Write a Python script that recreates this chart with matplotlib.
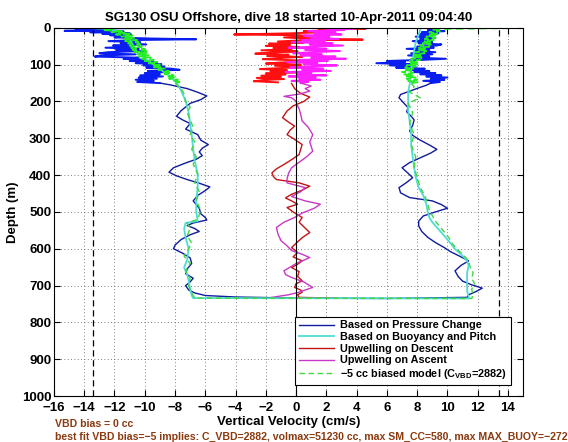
import matplotlib
matplotlib.use('Agg')
import matplotlib.pyplot as plt
import numpy as np

plt.rcParams['font.family'] = ['Liberation Sans', 'DejaVu Sans']
plt.rcParams['font.weight'] = 'bold'
plt.rcParams['mathtext.fontset'] = 'custom'
plt.rcParams['mathtext.rm'] = 'Liberation Sans:bold'
plt.rcParams['mathtext.it'] = 'Liberation Sans:bold'
plt.rcParams['mathtext.bf'] = 'Liberation Sans:bold'

# ---------------------------------------------------------------------------
# Data (depth in m, vertical velocity in cm/s)
# ---------------------------------------------------------------------------

# Based on pressure change: descent then ascent
press_depth = [0, 2, 4, 6, 8, 10, 12, 14, 16, 18, 20, 23, 26, 29, 31, 33, 36, 39, 42, 45,
               48, 51, 54, 57, 60, 63, 66, 69, 72, 75, 78, 81, 84, 87, 90, 93, 96, 99, 102, 105,
               108, 111, 114, 117, 120, 123, 126, 129, 132, 135, 138, 141, 144, 147, 150,
               155, 165, 175, 185, 195, 205, 215, 225, 240, 250, 260, 275, 290, 305, 317,
               327, 337, 347, 357, 367, 380, 392, 402, 412, 422, 432, 442, 455, 470, 480,
               490, 505, 515, 522, 530, 537, 545, 553, 562, 575, 590, 600, 612, 625, 640,
               655, 668, 680, 690, 700, 712, 720, 727, 731, 734,
               735, 732, 725, 716, 707, 698, 688, 675, 660, 645, 633, 620, 608, 597, 583,
               569, 553, 538, 525, 511, 500, 490, 480, 470, 461, 448, 434, 420, 407, 395,
               380, 366, 353, 340, 330, 318, 305, 292, 280, 265, 250, 240, 228, 217, 208,
               199, 190, 181, 172, 163, 156, 150, 147, 144, 141, 138, 135, 132, 129, 126,
               123, 120, 117, 114, 111, 108, 105, 102, 99, 96, 93, 90, 87, 84, 81, 78, 75,
               72, 69, 66, 63, 60, 57, 54, 51, 48, 45, 42, 39, 36, 33, 30, 27, 24, 21, 18,
               15, 12, 9, 6, 3, 0]
press_vel = [-8.0, -14.6, -12.2, -13.0, -15.3, -11.4, -13.6, -11.0, -12.8, -10.9, -12.3, -11.2,
             -12.0, -9.6, -6.6, -10.4, -12.4, -10.3, -11.6, -9.9, -12.1, -10.7, -12.6, -10.4,
             -11.9, -10.1, -12.4, -13.0, -10.6, -12.8, -13.3, -10.4, -11.4, -9.9, -11.0, -9.2,
             -10.6, -8.9, -10.1, -8.7, -9.9, -8.2, -7.7, -9.8, -8.6, -10.0, -9.0, -10.3, -8.8,
             -10.4, -9.2, -10.6, -9.4, -10.5, -9.0,
             -8.3, -7.2, -6.5, -5.9, -6.3, -7.0, -7.3, -7.6, -7.9, -7.5, -7.0, -7.3, -6.5, -6.3,
             -5.8, -6.2, -6.4, -6.2, -6.6, -7.3, -8.1, -8.4, -7.9, -7.2, -6.4, -5.7, -6.0, -6.5,
             -6.8, -6.6, -6.4, -6.3, -6.0, -5.9, -6.8, -7.2, -6.7, -6.4, -7.0, -7.6, -8.0, -8.1,
             -7.5, -7.0, -6.9, -7.2, -7.3, -6.8, -7.0, -7.3, -7.1, -6.7, -6.0, -4.0, 0.0,
             6.0, 11.3, 11.4, 11.9, 12.3, 11.6, 11.0, 10.7, 10.5, 10.9, 11.4, 10.8, 10.2, 9.8,
             9.2, 8.7, 8.3, 8.1, 8.1, 8.4, 9.2, 10.0, 9.6, 9.0, 7.5, 6.9, 6.8, 7.3, 7.7, 7.4,
             7.0, 7.5, 8.2, 8.9, 9.3, 8.8, 8.2, 7.7, 7.5, 7.7, 7.8, 7.6, 7.3, 7.4, 7.2, 7.0,
             6.8, 6.9, 7.5, 8.1, 8.6, 8.9, 9.5, 8.4, 9.8, 8.9, 10.0, 8.6, 9.6, 8.2, 9.2, 7.8,
             8.8, 7.3, 8.5, 6.6, 7.9, 6.2, 7.6, 5.3, 7.2, 6.0, 8.3, 9.9, 7.9, 8.8, 7.4, 9.0,
             7.6, 9.2, 7.9, 8.8, 7.3, 9.1, 8.0, 9.3, 9.6, 8.1, 9.0, 7.7, 8.9, 8.2, 9.2, 7.9,
             9.0, 8.1, 9.4, 8.3, 9.8, 8.7, 9.3, 9.0]

# Based on buoyancy and pitch
buoy_depth = [0, 3, 8, 18, 30, 45, 60, 72, 85, 100, 118, 136, 150, 170, 199, 230, 260, 290,
              330, 360, 398, 430, 470, 500, 525, 530, 545, 570, 600, 630, 651, 670, 687, 710,
              727, 734,
              735, 730, 715, 700, 687, 665, 645, 633, 615, 601, 585, 570, 556, 542, 528, 515,
              500, 479, 455, 434, 405, 380, 350, 317, 285, 253, 225, 199, 175, 154, 130, 109,
              85, 63, 40, 18, 5, 0]
buoy_vel = [-13.5, -12.4, -11.8, -11.1, -11.0, -10.8, -10.6, -10.4, -9.9, -9.4, -8.8, -8.2,
            -7.9, -7.6, -7.3, -7.1, -7.0, -6.9, -6.8, -6.7, -6.5, -6.5, -6.6, -6.6, -6.5, -7.3,
            -7.4, -7.3, -7.1, -7.2, -7.4, -7.2, -7.1, -7.0, -6.9, -6.8,
            11.4, 11.4, 11.3, 11.3, 11.3, 11.3, 11.4, 11.3, 10.9, 10.5, 10.2, 9.9, 9.6, 9.3,
            9.0, 8.8, 8.7, 8.6, 8.4, 8.1, 7.9, 7.8, 7.7, 7.6, 7.6, 7.5, 7.4, 7.4, 7.4, 7.5,
            7.6, 7.6, 7.7, 7.8, 7.9, 8.1, 8.2, 8.3]

# -5 cc biased model
model_depth = [0, 3, 6, 9, 12, 15, 18, 21, 24, 27, 30, 33, 36, 39, 42, 45, 48, 51, 54, 57,
               60, 63, 66, 69, 72, 75, 78, 81, 84, 87, 90, 93, 96, 99, 102, 105, 108, 111,
               114, 117, 120, 123, 126, 129, 132, 135, 138, 141, 144, 147, 150, 165, 180, 199,
               215, 230, 250, 270, 290, 310, 330, 350, 370, 398, 420, 445, 470, 495, 520, 530,
               545, 565, 585, 600, 620, 640, 660, 680, 700, 720, 734,
               735, 725, 710, 695, 680, 665, 650, 633, 615, 600, 585, 570, 555, 540, 525, 510,
               495, 479, 455, 434, 405, 380, 350, 317, 290, 260, 230, 205, 190, 175, 160, 150,
               147, 144, 141, 138, 135, 132, 129, 126, 123, 120, 117, 114, 111, 108, 105, 102,
               99, 96, 93, 90, 87, 84, 81, 78, 75, 72, 69, 66, 63, 60, 57, 54, 51, 48, 45, 42,
               39, 36, 33, 30, 27, 24, 21, 18, 15, 12, 9, 6, 3, 0]
model_vel = [-14.2, -12.0, -12.8, -11.5, -12.2, -11.0, -11.9, -10.8, -11.6, -10.6, -11.4, -10.5,
             -11.3, -10.4, -11.1, -10.3, -11.0, -10.2, -10.9, -10.0, -10.8, -9.9, -10.7, -9.8,
             -10.5, -9.7, -10.4, -9.6, -10.2, -9.4, -10.0, -9.2, -9.8, -9.0, -9.6, -8.8, -9.4,
             -8.6, -9.1, -8.4, -8.9, -8.2, -8.7, -8.1, -8.6, -7.9, -8.4, -7.8, -8.2, -7.7, -8.0,
             -7.6, -7.4, -7.3, -7.0, -7.2, -7.0, -6.8, -7.0, -6.7, -6.9, -6.6, -6.8, -6.5, -6.7,
             -6.4, -6.6, -6.3, -6.5, -7.2, -7.0, -7.2, -6.9, -7.1, -7.4, -7.0, -7.3, -7.0, -7.1,
             -6.9, -6.7,
             11.6, 11.7, 11.6, 11.8, 11.6, 11.7, 11.5, 11.4, 11.0, 10.6, 10.3, 10.1, 9.8, 9.5,
             9.2, 9.0, 8.8, 8.7, 8.5, 8.2, 8.0, 7.8, 7.9, 7.6, 7.8, 7.5, 7.7, 7.4, 8.2, 7.5,
             7.8, 7.6, 8.1, 7.4, 8.0, 7.3, 7.9, 7.2, 7.8, 7.1, 7.7, 7.0, 7.6, 7.1, 7.8, 7.2,
             7.9, 7.3, 8.0, 7.4, 8.1, 7.5, 8.2, 7.6, 8.3, 7.7, 8.4, 7.8, 8.5, 7.9, 8.6, 8.0,
             8.7, 8.1, 8.8, 8.2, 8.9, 8.3, 9.0, 8.4, 9.1, 8.5, 9.2, 8.6, 9.3, 8.7, 9.4, 8.8,
             9.5, 9.0, 9.6, 15.5]

# Upwelling on descent
updesc_depth = [0, 2, 4, 6, 9, 12, 15, 18, 20, 23, 26, 29, 32, 34, 37, 40, 43, 46, 49, 52, 55,
                58, 61, 64, 67, 70, 73, 76, 79, 82, 85, 88, 91, 94, 97, 100, 103, 106, 109,
                112, 115, 118, 121, 124, 127, 130, 133, 136, 139, 142, 145, 148, 151, 165, 178,
                188, 200, 212, 226, 244, 256, 267, 278, 290, 303, 317, 330, 344, 358, 371, 383,
                394, 404, 412, 421, 430, 441, 452, 462, 470, 479, 488, 500, 515, 528, 540, 556,
                570, 585, 597, 610, 622, 633, 642, 651, 662, 675, 687, 695, 705, 712, 718, 725,
                732, 734]
updesc_vel = [3.5, 4.6, 1.5, 2.8, 0.5, 1.8, -0.5, -4.1, 0.2, 1.0, -0.8, 0.6, 4.4, 0.3, -1.2,
              0.5, -1.8, -0.4, -2.0, 0.2, -1.5, -0.3, -2.3, 0.1, -1.6, -2.7, -0.5, -1.9, 0.4,
              -1.2, -2.2, -0.2, 1.3, -1.0, -2.0, 0.3, -1.4, 0.8, -0.9, -2.4, -0.6, -1.7, 0.2,
              -2.0, -0.7, -2.3, -1.0, -2.6, -0.8, -2.2, -2.8, -1.2, -0.3, -0.1, 0.3, 0.9, 0.5,
              -0.2, -0.6, -0.9, -0.5, -0.1, -0.4, -0.6, -0.1, 0.4, 0.3, 0.2, -0.3, -0.8, -1.3,
              -1.6, -1.5, -1.3, 0.2, 0.9, 0.4, -0.3, -0.7, -0.3, 0.1, -0.6, -0.2, 0.4, 0.2, 0.5,
              0.9, 0.4, 0.0, -0.3, 0.1, -0.2, 0.4, 0.1, -0.3, 0.2, 0.1, 0.4, 0.0, -0.1, 0.3,
              0.4, 0.1, 0.2, 2.5]

# Upwelling on ascent
upasc_depth = [0, 2, 4, 6, 9, 12, 15, 18, 21, 24, 27, 30, 33, 36, 39, 42, 45, 48, 51, 54, 57,
               60, 63, 66, 69, 72, 75, 78, 81, 84, 87, 90, 93, 96, 99, 102, 105, 108, 111, 114,
               117, 120, 123, 126, 129, 132, 135, 138, 141, 144, 147, 150, 158, 165, 172, 180,
               186, 190, 199, 208, 220, 235, 253, 270, 290, 310, 335, 350, 365, 380, 395, 410,
               421, 434, 445, 458, 470, 479, 490, 503, 515, 528, 542, 560, 578, 592, 605, 615,
               624, 640, 660, 670, 678, 690, 705, 712, 718, 725, 732]
upasc_vel = [1.5, 3.8, 2.0, 3.2, 0.8, 2.6, 1.2, 3.0, 0.5, 2.2, 1.0, 2.8, 0.4, 1.9, -0.3, 2.4,
             0.9, 3.1, 1.3, -0.5, 2.0, 0.6, 2.9, 1.1, -0.2, 1.7, 0.3, 2.6, 1.0, 3.3, 0.2, 2.1,
             -0.6, 1.4, 0.5, 2.7, 1.2, -0.4, 1.8, 0.4, 2.3, -0.7, 1.0, 0.1, 2.0, -0.5, 1.3, 0.2,
             1.6, -0.3, 0.8, 0.3, 1.0, 0.6, 0.9, 0.2, -0.8, -0.3, 0.0, 0.05, 0.2, 0.3, 0.4, 0.8,
             1.1, 0.9, 1.1, 0.7, 0.2, -0.3, -0.5, -0.6, -0.6, 0.6, 0.3, -0.3, 0.6, 1.6, 1.2, 0.4,
             -0.1, -0.8, -1.3, -1.2, -1.0, -0.6, -0.3, 0.4, 0.9, 0.0, -0.8, -0.7, -0.3, 0.5, 1.1,
             0.6, 0.2, -0.5, -1.6]

vbd_limits = [-13.4, 13.4]
noisy_depth = 150  # top layer drawn with the brighter raw colour

# ---------------------------------------------------------------------------
fig = plt.figure(figsize=(5.68, 4.42), dpi=100)
ax = fig.add_axes([0.095, 0.104, 0.826, 0.833])


def plot_split(depth, vel, deep_color, top_color, top_lw, **kw):
    d = np.array(depth, dtype=float)
    v = np.array(vel, dtype=float)
    top = np.where(d <= noisy_depth, v, np.nan)
    deep = np.where(d >= noisy_depth, v, np.nan)
    ax.plot(top, d, color=top_color, lw=top_lw, **kw)
    line, = ax.plot(deep, d, color=deep_color, lw=1.0, **kw)
    return line


h_press = plot_split(press_depth, press_vel, '#101c9c', '#0a1ef0', 1.4)
h_updesc = plot_split(updesc_depth, updesc_vel, '#c41414', '#ff1010', 1.4)
h_upasc = plot_split(upasc_depth, upasc_vel, '#c838c8', '#ff20ff', 1.4)
h_buoy, = ax.plot(buoy_vel, buoy_depth, color='#4fdcd6', lw=1.3)
h_model = plot_split(model_depth, model_vel, '#3fd83f', '#22ee22', 1.3, dashes=(4, 2.5))

for xv in vbd_limits:
    ax.axvline(xv, color='black', lw=0.9, dashes=(5, 3))
ax.axvline(0, color='black', lw=0.8)

ax.set_xlim(-16, 15)
ax.set_ylim(1000, 0)
ax.set_xticks(np.arange(-16, 15, 2))
ax.set_yticks(np.arange(0, 1001, 100))
ax.grid(True, color='#555555', linestyle=(0, (1, 3)), lw=0.6)
ax.tick_params(direction='in', top=True, right=True, labelsize=9.5, length=4)
ax.tick_params(axis='x', pad=4)
ax.tick_params(axis='y', pad=2)
for lab in ax.get_xticklabels() + ax.get_yticklabels():
    lab.set_fontweight('bold')

ax.set_title('SG130 OSU Offshore, dive 18 started 10-Apr-2011 09:04:40',
             fontsize=9.5, fontweight='bold', pad=5)
ax.set_xlabel('Vertical Velocity (cm/s)', fontsize=9.5, fontweight='bold', labelpad=2)
ax.set_ylabel('Depth (m)', fontsize=9.5, fontweight='bold', labelpad=2)

leg = ax.legend([h_press, h_buoy, h_updesc, h_upasc, h_model],
                ['Based on Pressure Change', 'Based on Buoyancy and Pitch',
                 'Upwelling on Descent', 'Upwelling on Ascent',
                 '\u22125 cc biased model (C$_{VBD}$=2882)'],
                loc='lower right', bbox_to_anchor=(0.985, 0.016), fontsize=7.8,
                frameon=True, fancybox=False, edgecolor='black', framealpha=1,
                handlelength=3.2, labelspacing=0.15, borderpad=0.35, handletextpad=0.6)
leg.get_frame().set_linewidth(0.8)
for t in leg.get_texts():
    t.set_fontweight('bold')

fig.text(0.097, 0.035, 'VBD bias = 0 cc', color='#8b3a10', fontsize=7.6, fontweight='bold')
fig.text(0.097, 0.005, 'best fit VBD bias=\u22125 implies: C_VBD=2882, volmax=51230 cc, '
         'max SM_CC=580, max MAX_BUOY=\u2212272', color='#8b3a10', fontsize=7.6,
         fontweight='bold')

fig.savefig('out.png', dpi=100)
